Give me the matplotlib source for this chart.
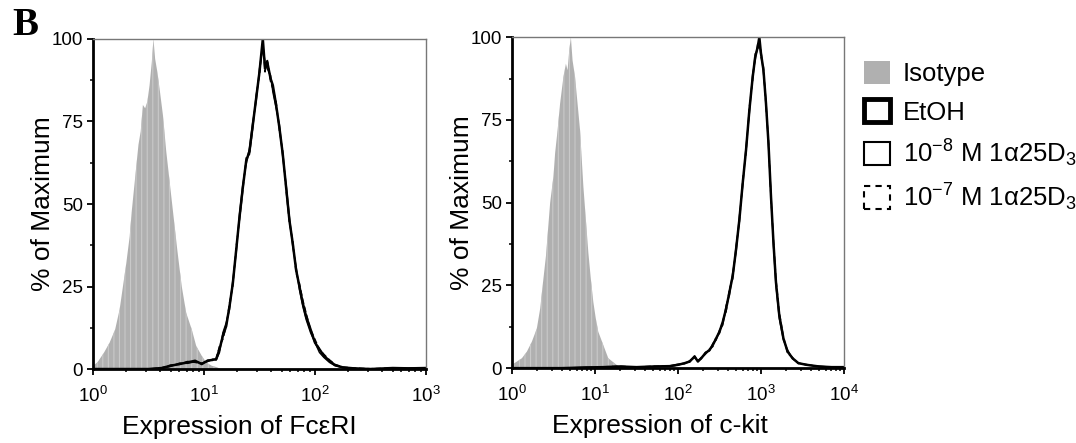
import numpy as np
import matplotlib
matplotlib.use("Agg")
import matplotlib.pyplot as plt
from matplotlib.patches import Patch
from matplotlib.ticker import MultipleLocator, LogLocator, NullFormatter

plt.rcParams["font.family"] = ["Liberation Sans", "DejaVu Sans"]
plt.rcParams["mathtext.fontset"] = "custom"
plt.rcParams["mathtext.rm"] = "Liberation Sans"
plt.rcParams["mathtext.it"] = "Liberation Sans:italic"
plt.rcParams["hatch.linewidth"] = 0.8

GREY = "#b0b0b0"
STRIPE = "#c9c9c9"

# --- FcεRI panel (log10 of expression, % of maximum) ---
fc_iso_x = [0.0, 0.04, 0.1, 0.15, 0.2, 0.24, 0.27, 0.3, 0.33, 0.35, 0.38, 0.41, 0.43,
            0.45, 0.47, 0.49, 0.51, 0.53, 0.545, 0.56, 0.58, 0.6, 0.63, 0.66, 0.69, 0.72,
            0.76, 0.8, 0.84, 0.89, 0.93, 0.98, 1.02, 1.07, 1.12, 1.15]
fc_iso_y = [1, 2, 5, 8, 12, 18, 25, 32, 40, 48, 58, 68, 72, 80, 79, 81, 86, 93, 100, 94,
            90, 85, 77, 66, 57, 48, 36, 25, 17, 12, 7, 4, 2, 1, 0.5, 0]

fc_x = [0.0, 0.5, 0.62, 0.7, 0.78, 0.85, 0.92, 0.98, 1.03, 1.08, 1.11, 1.14, 1.17, 1.2,
        1.23, 1.26, 1.29, 1.32, 1.35, 1.38, 1.41, 1.44, 1.47, 1.5, 1.53, 1.55, 1.57, 1.6,
        1.62, 1.65, 1.68, 1.71, 1.74, 1.77, 1.8, 1.83, 1.86, 1.89, 1.92, 1.96, 2.0, 2.04,
        2.08, 2.13, 2.18, 2.25, 2.35, 2.5, 2.7, 2.85, 3.0]
fc_etoh = [0, 0, 0.3, 1.0, 1.5, 2.0, 2.5, 1.5, 2.5, 2.8, 3.0, 6, 10, 13, 19, 26, 36, 46,
           55, 63, 66, 74, 82, 90, 100, 91, 93, 88, 86, 80, 73, 65, 55, 45, 38, 30, 25,
           20, 16, 12, 8, 6, 4, 2.5, 1.2, 0.5, 0.2, 0, 0.3, 0.2, 0.3]
fc_e8 = [0, 0, 0.2, 0.8, 1.8, 1.7, 2.2, 1.8, 2.2, 3.0, 2.7, 5, 11, 14, 18, 27, 35, 47,
         56, 62, 67, 75, 81, 91, 98, 93, 91, 89, 84, 79, 74, 64, 56, 46, 37, 31, 24,
         19, 15, 11, 8, 5, 3.5, 2.0, 1.0, 0.4, 0.2, 0, 0.2, 0.3, 0.2]
fc_e7 = [0, 0, 0.4, 1.2, 1.4, 2.3, 2.0, 1.6, 2.7, 2.6, 3.2, 7, 9, 13, 20, 25, 37, 45,
         54, 64, 65, 73, 83, 89, 99, 90, 94, 87, 85, 81, 72, 66, 54, 44, 39, 29, 26,
         21, 17, 12, 9, 6, 4.5, 2.8, 1.4, 0.6, 0.3, 0.1, 0.3, 0.2, 0.3]

# --- c-kit panel ---
kit_iso_x = [0.0, 0.06, 0.12, 0.18, 0.24, 0.3, 0.34, 0.37, 0.41, 0.46, 0.5, 0.52, 0.55,
             0.58, 0.62, 0.65, 0.67, 0.69, 0.71, 0.73, 0.76, 0.79, 0.82, 0.86, 0.89, 0.92,
             0.95, 0.98, 1.01, 1.04, 1.07, 1.1, 1.16, 1.21, 1.26, 1.32, 1.38, 1.45]
kit_iso_y = [1, 2, 3, 5, 8, 12, 18, 25, 34, 50, 58, 65, 72, 80, 88, 92, 90, 96, 100, 93,
             88, 80, 72, 55, 45, 35, 27, 20, 15, 11, 9, 7, 3, 2, 1, 0.6, 0.3, 0]

kit_x = [0.0, 0.6, 0.9, 1.1, 1.3, 1.5, 1.7, 1.9, 2.0, 2.08, 2.14, 2.2, 2.24, 2.28, 2.33,
         2.38, 2.42, 2.46, 2.5, 2.54, 2.58, 2.62, 2.66, 2.7, 2.74, 2.78, 2.82, 2.86, 2.9,
         2.93, 2.96, 2.98, 3.0, 3.03, 3.06, 3.09, 3.12, 3.15, 3.18, 3.22, 3.27, 3.32,
         3.38, 3.45, 3.55, 3.7, 3.85, 4.0]
kit_etoh = [0, 0, 0.2, 0.3, 0.5, 0.3, 0.5, 0.6, 1.0, 1.5, 2.0, 3.5, 2.0, 3.0, 4.5, 5.5,
            7, 9, 11, 14, 18, 23, 28, 36, 45, 56, 66, 78, 88, 94, 97, 100, 95, 90, 80,
            68, 52, 38, 26, 16, 9, 5, 3, 1.5, 1, 0.5, 0.3, 0.3]
kit_e8 = [0, 0, 0.3, 0.2, 0.4, 0.4, 0.4, 0.7, 1.2, 1.3, 2.2, 3.2, 2.3, 2.8, 4.8, 5.2,
          7.5, 8.5, 11.5, 13, 19, 22, 29, 35, 46, 55, 67, 77, 89, 93, 98, 97, 96, 89, 81,
          67, 53, 37, 25, 15, 8.5, 5.5, 2.8, 1.6, 0.9, 0.6, 0.3, 0.2]
kit_e7 = [0, 0, 0.1, 0.4, 0.6, 0.3, 0.6, 0.5, 0.9, 1.6, 1.8, 3.7, 2.2, 3.2, 4.2, 5.8,
          6.5, 9.5, 10.5, 14.5, 17, 24, 27, 37, 44, 57, 65, 79, 87, 95, 96, 99, 94, 91,
          79, 69, 51, 39, 27, 17, 9.5, 4.5, 3.2, 1.4, 1.1, 0.4, 0.4, 0.3]

legend_labels = ["Isotype", "EtOH", "10$^{-8}$ M 1α25D$_3$", "10$^{-7}$ M 1α25D$_3$"]


def draw_panel(ax, iso_x, iso_y, x, curves, xmax, xlabel, xlabel_x):
    # striped grey fill mimics the binned isotype histogram
    ax.fill_between(10 ** np.array(iso_x), iso_y, facecolor=GREY, edgecolor=STRIPE,
                    hatch="|||", lw=0)
    ex = 10 ** np.array(x)
    etoh, e8, e7 = curves
    ax.plot(ex, e8, color="black", lw=1.0)
    ax.plot(ex, e7, color="black", lw=1.0, ls=(0, (4, 2)))
    ax.plot(ex, etoh, color="black", lw=1.8)
    ax.set_xscale("log")
    ax.set_xlim(1, xmax)
    ax.set_ylim(0, 100)
    ax.yaxis.set_major_locator(MultipleLocator(25))
    ax.yaxis.set_minor_locator(MultipleLocator(12.5))
    ax.xaxis.set_major_locator(LogLocator(base=10, numticks=20))
    ax.xaxis.set_minor_locator(LogLocator(base=10, subs=np.arange(2, 10), numticks=20))
    ax.xaxis.set_minor_formatter(NullFormatter())
    ax.tick_params(which="major", direction="out", length=4, width=1.3,
                   labelsize=13.5, pad=3)
    ax.tick_params(axis="x", which="major", pad=8)
    ax.tick_params(which="minor", direction="out", length=2.2, width=1.1)
    for s in ("left", "bottom"):
        ax.spines[s].set_linewidth(2)
        ax.spines[s].set_color("black")
    for s in ("top", "right"):
        ax.spines[s].set_linewidth(1)
        ax.spines[s].set_color("#777777")
    ax.set_xlabel(xlabel, fontsize=19, va="top")
    ax.xaxis.set_label_coords(xlabel_x, -0.14)
    ax.set_ylabel("% of Maximum", fontsize=19, va="center")
    ax.yaxis.set_label_coords(-0.15, 0.5)


fig = plt.figure(figsize=(10.76, 4.43), dpi=100)
ax1 = fig.add_axes([0.0864, 0.167, 0.3095, 0.745])
ax2 = fig.add_axes([0.4758, 0.169, 0.3086, 0.747])

draw_panel(ax1, fc_iso_x, fc_iso_y, fc_x, (fc_etoh, fc_e8, fc_e7), 1e3,
           "Expression of FcεRI", 0.44)
draw_panel(ax2, kit_iso_x, kit_iso_y, kit_x, (kit_etoh, kit_e8, kit_e7), 1e4,
           "Expression of c-kit", 0.445)

fig.text(0.011, 0.985, "B", fontsize=28, fontweight="bold",
         family="Liberation Serif", va="top", ha="left")

handles = [
    Patch(facecolor=GREY, edgecolor=GREY, lw=0),
    Patch(facecolor="white", edgecolor="black", lw=3.5),
    Patch(facecolor="white", edgecolor="black", lw=1.5),
    Patch(facecolor="white", edgecolor="black", lw=1.5, ls=(0, (3, 2.5))),
]
fig.legend(handles, legend_labels, loc="upper left", bbox_to_anchor=(0.803, 0.862),
           frameon=False, fontsize=18.5, handlelength=1.0, handleheight=1.0,
           handletextpad=0.5, labelspacing=0.5, borderpad=0, borderaxespad=0)

fig.savefig("out.png", dpi=100)
